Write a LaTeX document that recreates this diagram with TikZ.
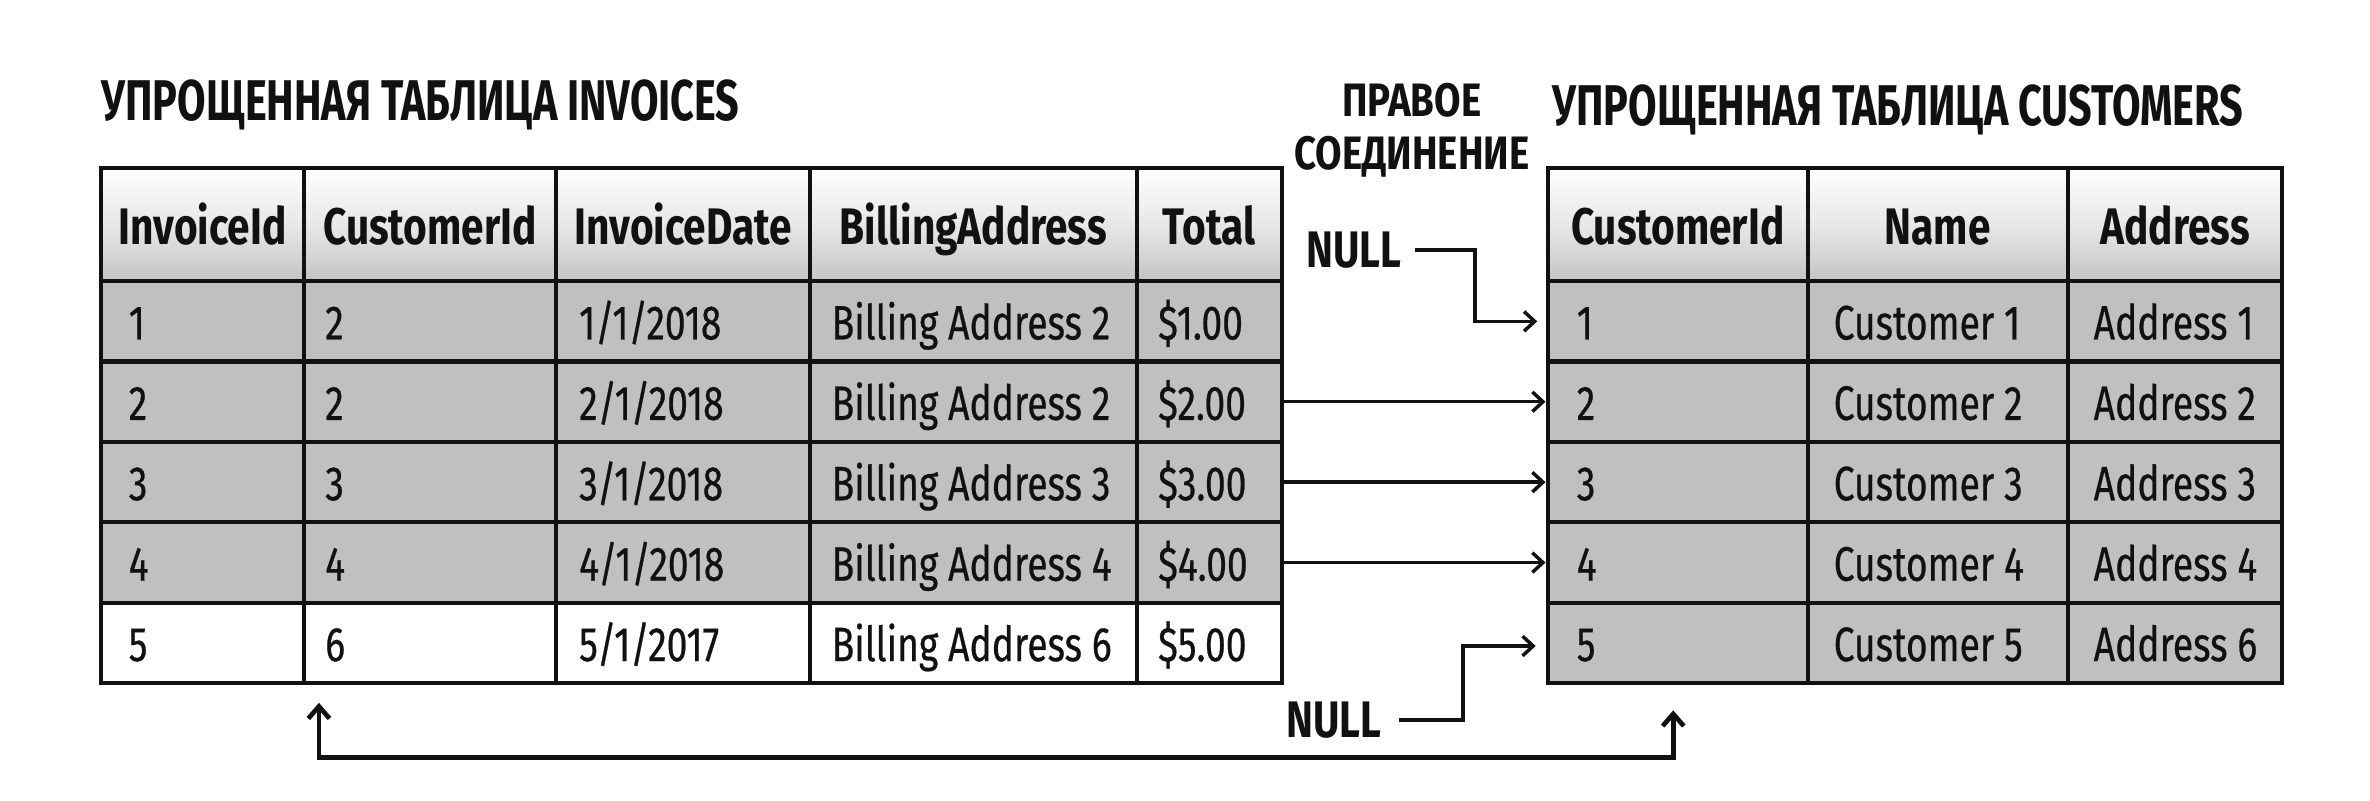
\documentclass[tikz,border=0pt]{standalone}
\usepackage{fontspec}
\setmainfont{Fira Sans}
\newfontfamily\titlefont{Fira Sans}[FakeStretch=0.72]
\newfontfamily\joinfont{Fira Sans}[FakeStretch=0.82]
\newfontfamily\headfont{Fira Sans}[FakeStretch=0.79]
\newfontfamily\bodyfont{Fira Sans}[FakeStretch=0.77,FakeBold=0.5]
\usetikzlibrary{arrows.meta,calc}
\definecolor{bodygray}{RGB}{192,192,192}
\definecolor{hgray}{RGB}{196,196,196}
\definecolor{ink}{RGB}{17,17,17}
\tikzset{
  cellbase/.style={draw=ink, line width=2.8bp, anchor=north west, inner sep=0pt, outer sep=0pt},
  hcell/.style={cellbase, top color=white, bottom color=hgray, middle color=white!60!hgray},
  bcell/.style={cellbase, fill=bodygray},
  wcell/.style={cellbase, fill=white},
  htext/.style={anchor=base, inner sep=0pt, text=ink, font=\headfont\bfseries\fontsize{34bp}{36bp}\selectfont},
  btext/.style={anchor=base west, inner sep=0pt, text=ink, font=\bodyfont\fontsize{32bp}{34bp}\selectfont},
  ttext/.style={anchor=base west, inner sep=0pt, text=ink, font=\titlefont\bfseries\fontsize{38bp}{40bp}\selectfont},
  jtext/.style={anchor=base, inner sep=0pt, text=ink, font=\joinfont\bfseries\fontsize{31bp}{33bp}\selectfont},
  ntext/.style={anchor=base west, inner sep=0pt, text=ink, font=\headfont\bfseries\fontsize{34bp}{36bp}\selectfont},
  conn/.style={draw=ink, line width=2.3bp, -{Straight Barb[length=7bp,width=13bp]}},
  bigconn/.style={draw=ink, line width=3.1bp, {Straight Barb[length=8bp,width=14bp]}-{Straight Barb[length=8bp,width=14bp]}}
}
% left table body row: #1 row index, #2 top y, #3 cell style, #4..#8 texts
\newcommand\lrow[8]{%
  \foreach \c/\x/\w/\p/\t in {1/67/134/18/{#4},2/201/167/14/{#5},3/368/168/15/{#6},4/536/216/14/{#7},5/752/96/14/{#8}}{%
    \node[#3, minimum width=\w bp, minimum height=53.2bp] (L-#1-\c) at (\x,#2) {};
    \node[btext] at ($(L-#1-\c.west)+(\p,12)$) {\t};
  }}
% right table body row: #1 row index, #2 top y, #3..#5 texts
\newcommand\rrow[5]{%
  \foreach \c/\x/\w/\p/\t in {1/1024/172/19/{#3},2/1196/172/17/{#4},3/1368/142/17/{#5}}{%
    \node[bcell, minimum width=\w bp, minimum height=53.2bp] (R-#1-\c) at (\x,#2) {};
    \node[btext] at ($(R-#1-\c.west)+(\p,12)$) {\t};
  }}
\begin{document}
\begin{tikzpicture}[x=1bp,y=-1bp]
\useasboundingbox[fill=white] (0,0) rectangle (1568,529.3);

% titles
\node[ttext] (ltitle) at (67,80) {УПРОЩЕННАЯ ТАБЛИЦА INVOICES};
\node[ttext] (rtitle) at (1027,83) {УПРОЩЕННАЯ ТАБЛИЦА CUSTOMERS};
\node[jtext] (join1) at (934,77) {ПРАВОЕ};
\node[jtext] (join2) at (934,112) {СОЕДИНЕНИЕ};

% left table header
\foreach \c/\x/\w/\t in {1/67/134/InvoiceId,2/201/167/CustomerId,3/368/168/InvoiceDate,4/536/216/BillingAddress,5/752/96/Total}{%
  \node[hcell, minimum width=\w bp, minimum height=75bp] (L-0-\c) at (\x,111) {};
  \node[htext] at ($(L-0-\c.center)+(0,13)$) {\t};
}
\lrow{1}{186}{bcell}{1}{2}{1/1/2018}{Billing Address 2}{\$1.00}
\lrow{2}{239.2}{bcell}{2}{2}{2/1/2018}{Billing Address 2}{\$2.00}
\lrow{3}{292.4}{bcell}{3}{3}{3/1/2018}{Billing Address 3}{\$3.00}
\lrow{4}{345.6}{bcell}{4}{4}{4/1/2018}{Billing Address 4}{\$4.00}
\lrow{5}{398.8}{wcell}{5}{6}{5/1/2017}{Billing Address 6}{\$5.00}

% right table header
\foreach \c/\x/\w/\t in {1/1024/172/CustomerId,2/1196/172/Name,3/1368/142/Address}{%
  \node[hcell, minimum width=\w bp, minimum height=75bp] (R-0-\c) at (\x,111) {};
  \node[htext] at ($(R-0-\c.center)+(0,13)$) {\t};
}
\rrow{1}{186}{1}{Customer 1}{Address 1}
\rrow{2}{239.2}{2}{Customer 2}{Address 2}
\rrow{3}{292.4}{3}{Customer 3}{Address 3}
\rrow{4}{345.6}{4}{Customer 4}{Address 4}
\rrow{5}{398.8}{5}{Customer 5}{Address 6}

% matching rows
\foreach \r in {2,3,4}{%
  \draw[conn, shorten >=1.5bp] (L-\r-5.east) -- (R-\r-1.west);
}

% NULL labels
\node[ntext] (null1) at (864,177) {NULL};
\draw[conn] ($(null1.east)+(9,0)$) -| ($(R-1-1.west)+(-48,0)$) -- ($(R-1-1.west)+(-7,0)$);
\node[ntext] (null2) at (851,488) {NULL};
\draw[conn] ($(null2.east)+(11,0)$) -| ($(R-5-1.west)+(-56,2)$) -- ($(R-5-1.west)+(-8,2)$);

% bottom connector
\coordinate (bl) at ($(L-5-2.south west)+(10,13)$);
\coordinate (br) at ($(R-5-1.south)+(-3,18)$);
\draw[bigconn] (bl) -- ++(0,36) -| (br);
\end{tikzpicture}
\end{document}
